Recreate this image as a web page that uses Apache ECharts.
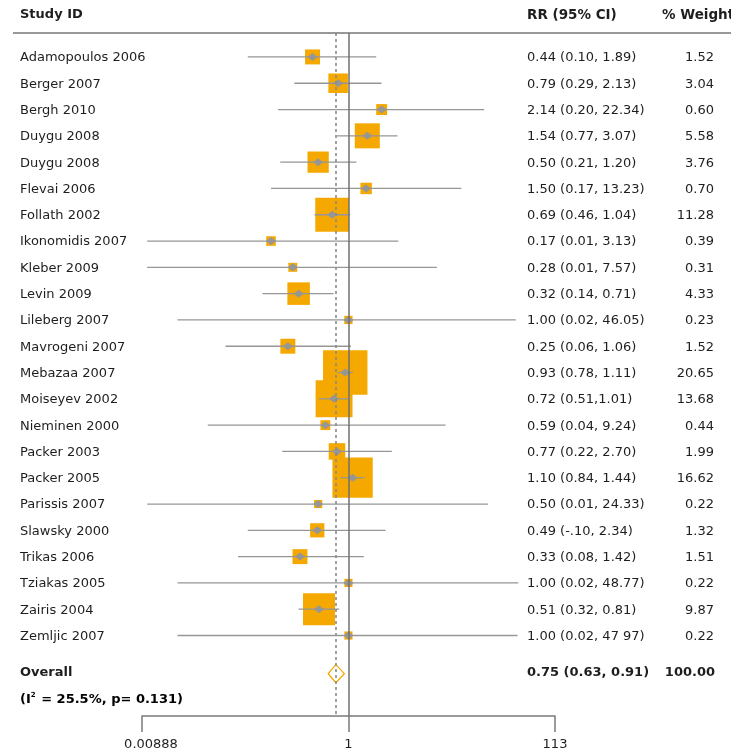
<!DOCTYPE html>
<html>
<head>
<meta charset="utf-8">
<script src="https://cdn.jsdelivr.net/npm/echarts@6/dist/echarts.min.js"></script>
<style>
  html, body { margin: 0; padding: 0; background: #ffffff; }
  #chart { width: 731px; height: 755px; }
</style>
</head>
<body>
<div id="chart"></div>
<script>
// Study-level relative risks with 95% confidence limits and % weights
const studies = [
  'Adamopoulos 2006', 'Berger 2007', 'Bergh 2010', 'Duygu 2008', 'Duygu 2008',
  'Flevai 2006', 'Follath 2002', 'Ikonomidis 2007', 'Kleber 2009', 'Levin 2009',
  'Lileberg 2007', 'Mavrogeni 2007', 'Mebazaa 2007', 'Moiseyev 2002', 'Nieminen 2000',
  'Packer 2003', 'Packer 2005', 'Parissis 2007', 'Slawsky 2000', 'Trikas 2006',
  'Tziakas 2005', 'Zairis 2004', 'Zemljic 2007'
];
const rr = [0.44, 0.79, 2.14, 1.54, 0.50, 1.50, 0.69, 0.17, 0.28, 0.32, 1.00, 0.25,
            0.93, 0.72, 0.59, 0.77, 1.10, 0.50, 0.49, 0.33, 1.00, 0.51, 1.00];
const ciLow = [0.10, 0.29, 0.20, 0.77, 0.21, 0.17, 0.46, 0.01, 0.01, 0.14, 0.02, 0.06,
               0.78, 0.51, 0.04, 0.22, 0.84, 0.01, 0.10, 0.08, 0.02, 0.32, 0.02];
const ciHigh = [1.89, 2.13, 22.34, 3.07, 1.20, 13.23, 1.04, 3.13, 7.57, 0.71, 46.05, 1.06,
                1.11, 1.01, 9.24, 2.70, 1.44, 24.33, 2.34, 1.42, 48.77, 0.81, 47.97];
const rrText = [
  '0.44 (0.10, 1.89)', '0.79 (0.29, 2.13)', '2.14 (0.20, 22.34)', '1.54 (0.77, 3.07)',
  '0.50 (0.21, 1.20)', '1.50 (0.17, 13.23)', '0.69 (0.46, 1.04)', '0.17 (0.01, 3.13)',
  '0.28 (0.01, 7.57)', '0.32 (0.14, 0.71)', '1.00 (0.02, 46.05)', '0.25 (0.06, 1.06)',
  '0.93 (0.78, 1.11)', '0.72 (0.51,1.01)', '0.59 (0.04, 9.24)', '0.77 (0.22, 2.70)',
  '1.10 (0.84, 1.44)', '0.50 (0.01, 24.33)', '0.49 (-.10, 2.34)', '0.33 (0.08, 1.42)',
  '1.00 (0.02, 48.77)', '0.51 (0.32, 0.81)', '1.00 (0.02, 47 97)'
];
const weights = [1.52, 3.04, 0.60, 5.58, 3.76, 0.70, 11.28, 0.39, 0.31, 4.33, 0.23, 1.52,
                 20.65, 13.68, 0.44, 1.99, 16.62, 0.22, 1.32, 1.51, 0.22, 9.87, 0.22];

// Pooled estimate
const overallLabel = 'Overall';
const overallRR = 0.75;
const overallLow = 0.63;
const overallHigh = 0.91;
const overallText = '0.75 (0.63, 0.91)';
const overallWeight = 100.00;

// Log-scale axis ticks
const axisTicks = [0.00888, 1, 113];
const axisTickLabels = ['0.00888', '1', '113'];

const FONT = '"DejaVu Sans", "Noto Sans", sans-serif';
const TEXT_COLOR = '#1e1e1e';
const ORANGE = '#f5a800';
const GREY = '#969696';
const overallRow = studies.length + 0.45;

const chart = echarts.init(document.getElementById('chart'), null, { renderer: 'canvas' });

const rows = studies.map((s, i) => i);

const option = {
  animation: false,
  backgroundColor: '#ffffff',
  grid: { left: 142, width: 413, top: 33, height: 683, containLabel: false },
  xAxis: {
    type: 'log',
    logBase: 10,
    min: axisTicks[0],
    max: axisTicks[axisTicks.length - 1],
    splitLine: { show: false },
    axisLine: { show: true, onZero: false, lineStyle: { color: '#7a7a7a', width: 1.5 } },
    axisTick: { show: true, customValues: axisTicks, inside: false, length: 16,
                lineStyle: { color: '#7a7a7a', width: 1.5 } },
    axisLabel: {
      show: true, customValues: axisTicks, margin: 22,
      fontFamily: FONT, fontSize: 13, color: TEXT_COLOR,
      formatter: function (v) {
        let best = 0;
        axisTicks.forEach((t, k) => {
          if (Math.abs(Math.log10(t) - Math.log10(v)) < Math.abs(Math.log10(axisTicks[best]) - Math.log10(v))) best = k;
        });
        return best === 0 ? '{first|' + axisTickLabels[best] + '}' : axisTickLabels[best];
      },
      rich: { first: { padding: [0, 0, 0, 18], fontFamily: FONT, fontSize: 13, color: TEXT_COLOR } }
    }
  },
  yAxis: {
    type: 'value', inverse: true, min: -0.91, max: 25.06, show: false
  },
  series: [
    {
      // reference lines at no effect (1) and at the pooled estimate
      type: 'scatter', z: 1, data: [], silent: true,
      markLine: {
        silent: true, symbol: ['none', 'none'], label: { show: false },
        data: [
          { xAxis: 1, lineStyle: { color: '#707070', width: 1.5, type: 'solid' } },
          { xAxis: overallRR, lineStyle: { color: '#8a8a8a', width: 1.6, type: [3, 3] } }
        ]
      }
    },
    {
      // weight boxes
      type: 'scatter', z: 2, silent: true,
      symbol: 'rect',
      symbolSize: function (val) { return 4 + 8.9 * Math.sqrt(val[2]); },
      itemStyle: { color: ORANGE, opacity: 1 },
      data: rows.map(i => [rr[i], i, weights[i]])
    },
    {
      // confidence interval whiskers
      type: 'custom', z: 3, silent: true,
      data: rows.map(i => [ciLow[i], ciHigh[i], i]),
      renderItem: function (params, api) {
        const p1 = api.coord([api.value(0), api.value(2)]);
        const p2 = api.coord([api.value(1), api.value(2)]);
        return {
          type: 'line',
          shape: { x1: p1[0], y1: p1[1], x2: p2[0], y2: p2[1] },
          style: { stroke: GREY, lineWidth: 1.3 }
        };
      }
    },
    {
      // point estimates
      type: 'scatter', z: 4, silent: true,
      symbol: 'diamond', symbolSize: [10, 8],
      itemStyle: { color: GREY, opacity: 1 },
      data: rows.map(i => [rr[i], i])
    },
    {
      // pooled estimate diamond
      type: 'custom', z: 4, silent: true,
      data: [[overallLow, overallRR, overallHigh, overallRow]],
      renderItem: function (params, api) {
        const l = api.coord([api.value(0), api.value(3)]);
        const c = api.coord([api.value(1), api.value(3)]);
        const r = api.coord([api.value(2), api.value(3)]);
        return {
          type: 'polygon',
          shape: { points: [[l[0], l[1]], [c[0], c[1] - 9], [r[0], r[1]], [c[0], c[1] + 9]] },
          style: { fill: 'none', stroke: ORANGE, lineWidth: 1.3 }
        };
      }
    },
    {
      // study labels, RR (95% CI) and % weight columns
      type: 'custom', z: 5, silent: true, clip: false,
      data: rows.map(i => [i]),
      renderItem: function (params, api) {
        const i = api.value(0);
        const y = api.coord([1, i])[1] + 1;
        const base = { fontFamily: FONT, fontSize: 13, fill: TEXT_COLOR, verticalAlign: 'middle' };
        return {
          type: 'group',
          children: [
            { type: 'text', x: 20, y: y, style: Object.assign({ text: studies[i], align: 'left' }, base) },
            { type: 'text', x: 527, y: y, style: Object.assign({ text: rrText[i], align: 'left' }, base) },
            { type: 'text', x: 714, y: y, style: Object.assign({ text: weights[i].toFixed(2), align: 'right' }, base) }
          ]
        };
      }
    },
    {
      // pooled row text
      type: 'custom', z: 5, silent: true, clip: false,
      data: [[overallRow]],
      renderItem: function (params, api) {
        const y = api.coord([1, api.value(0)])[1] - 1;
        const base = { fontFamily: FONT, fontSize: 13, fontWeight: 'bold', fill: TEXT_COLOR, verticalAlign: 'middle' };
        return {
          type: 'group',
          children: [
            { type: 'text', x: 20, y: y, style: Object.assign({ text: overallLabel, align: 'left' }, base) },
            { type: 'text', x: 527, y: y, style: Object.assign({ text: overallText, align: 'left' }, base) },
            { type: 'text', x: 715, y: y, style: Object.assign({ text: overallWeight.toFixed(2), align: 'right' }, base) }
          ]
        };
      }
    }
  ],
  graphic: [
    { type: 'line', shape: { x1: 13, y1: 33, x2: 731, y2: 33 }, style: { stroke: '#333333', lineWidth: 1.2 } },
    { type: 'text', left: 20, top: 8, style: { text: 'Study ID', fontFamily: FONT, fontSize: 13, fontWeight: 'bold', fill: TEXT_COLOR } },
    { type: 'text', left: 527, top: 8, style: { text: 'RR (95% CI)', fontFamily: FONT, fontSize: 13.5, fontWeight: 'bold', fill: TEXT_COLOR } },
    { type: 'text', x: 662, y: 8, style: { text: '% Weight', fontFamily: FONT, fontSize: 13.5, fontWeight: 'bold', fill: TEXT_COLOR } },
    { type: 'text', left: 20, top: 692, style: {
        text: '{t|(I}{s|2}{t| = 25.5%, p= 0.131)}',
        rich: {
          t: { fontFamily: FONT, fontSize: 13, fontWeight: 'bold', color: TEXT_COLOR },
          s: { fontFamily: FONT, fontSize: 7, fontWeight: 'bold', color: TEXT_COLOR, verticalAlign: 'top', padding: [0, 1, 8, 0] }
        }
    } }
  ]
};

chart.setOption(option);
</script>
</body>
</html>
